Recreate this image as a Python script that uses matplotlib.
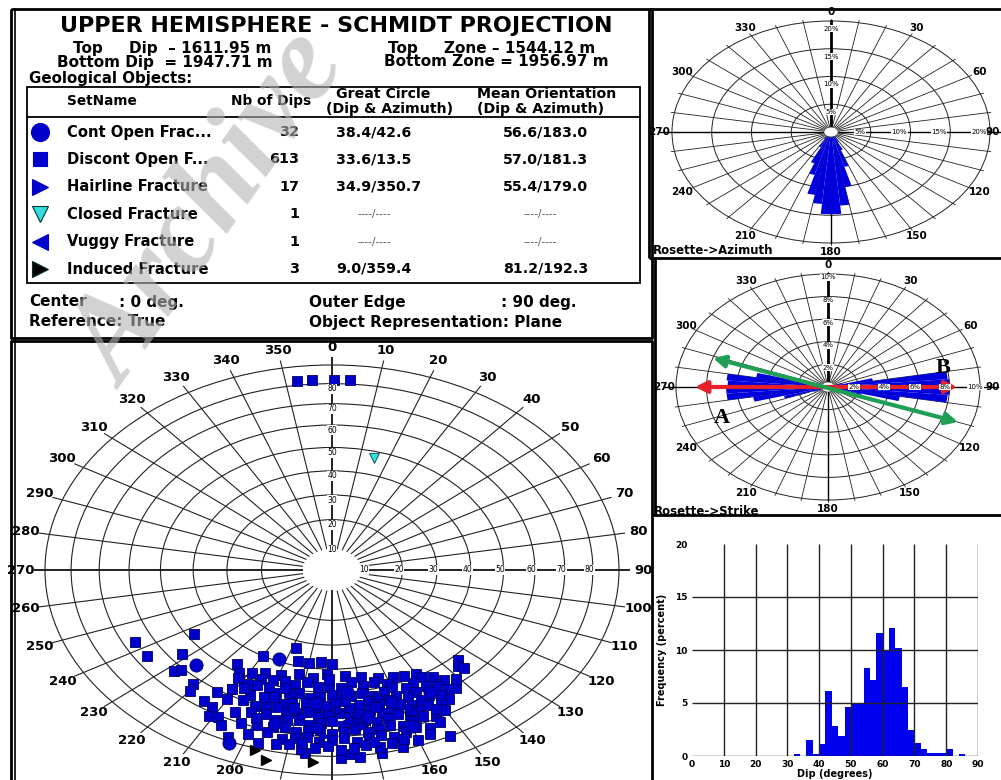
#!/usr/bin/env python3
"""Fracture orientation summary: Schmidt stereonet, rosettes and dip histogram."""

from __future__ import annotations

import numpy as np
import matplotlib

matplotlib.use("Agg")
import matplotlib.pyplot as plt
from matplotlib.patches import Circle, Rectangle, Wedge

W, H = 1001, 780
BLUE = "#0000cc"
NAVY = "#000066"
GRID = "#222222"

TITLE = "UPPER HEMISPHERE - SCHMIDT PROJECTION"
SET_NAMES = [
    "Cont Open Frac...",
    "Discont Open F...",
    "Hairline Fracture",
    "Closed Fracture",
    "Vuggy Fracture",
    "Induced Fracture",
]
NB_DIPS = [32, 613, 17, 1, 1, 3]
GREAT_CIRCLE = ["38.4/42.6", "33.6/13.5", "34.9/350.7", None, None, "9.0/359.4"]
MEAN_ORIENTATION = ["56.6/183.0", "57.0/181.3", "55.4/179.0", None, None, "81.2/192.3"]

# poles as (dip azimuth, dip), degrees
CONT_OPEN = [
    (225.6, 56), (203, 81), (203, 39), (185, 55), (170, 62),
    (160, 70), (195, 66), (150, 58), (175, 50),
]
DISCONT_OPEN = [
    (352.5, 82), (355.8, 82), (0.4, 82), (3.9, 82),
    (243, 66), (237, 48), (237, 66), (232, 56), (228, 63), (227, 61),
    (221, 63), (220, 66), (215, 67), (214, 61), (212, 68), (211, 72),
    (209, 71), (216, 47), (211, 57), (210, 40), (198, 33), (195, 38),
    (190, 38), (185, 37), (180, 38), (207, 74), (204, 78),
    (135, 52), (137, 54), (136, 56), (143, 61), (141, 58), (153, 80),
    (164, 79), (176, 79), (178, 81), (174, 81), (169, 80), (186, 79),
    (163, 46), (169, 44), (175, 43), (182, 42), (187, 44), (193, 43),
    (199, 45), (205, 46),
    (150, 49), (154, 48), (158, 47), (161, 49), (165, 47), (169, 48),
    (173, 46), (177, 48), (181, 47), (185, 48), (189, 46), (193, 48),
    (197, 47), (201, 48), (205, 49), (209, 48), (213, 50),
    (146, 53), (149, 51), (153, 52), (156, 53), (160, 51), (163, 52),
    (167, 53), (170, 51), (174, 52), (177, 53), (180, 51), (184, 52),
    (187, 53), (191, 51), (194, 52), (198, 53), (201, 51), (205, 52),
    (208, 53), (212, 52),
    (144, 56), (147, 57), (150, 55), (154, 56), (157, 57), (160, 55),
    (163, 56), (166, 57), (169, 55), (172, 56), (175, 57), (179, 55),
    (182, 56), (185, 57), (188, 55), (192, 56), (195, 57), (198, 55),
    (201, 56), (205, 57), (208, 55), (211, 57),
    (145, 60), (148, 61), (151, 59), (154, 60), (157, 61), (160, 59),
    (163, 60), (166, 61), (169, 59), (172, 60), (175, 61), (178, 59),
    (181, 60), (184, 61), (187, 59), (190, 60), (193, 61), (196, 59),
    (199, 60), (202, 61), (206, 60), (210, 62),
    (147, 64), (150, 65), (153, 63), (156, 64), (159, 65), (162, 63),
    (165, 64), (168, 65), (171, 63), (174, 64), (177, 65), (180, 63),
    (183, 64), (186, 65), (189, 63), (192, 64), (195, 65), (198, 63),
    (202, 64), (206, 66),
    (150, 68), (153, 69), (156, 67), (159, 68), (162, 69), (165, 67),
    (168, 68), (171, 69), (174, 67), (177, 68), (180, 69), (183, 67),
    (186, 68), (189, 69), (192, 67), (195, 68), (199, 69), (203, 70),
    (153, 72), (156, 73), (159, 71), (162, 72), (165, 73), (168, 71),
    (171, 72), (174, 73), (177, 71), (180, 72), (183, 73), (186, 71),
    (189, 72), (192, 73), (196, 71), (200, 74),
    (157, 76), (160, 77), (163, 75), (166, 76), (169, 77), (172, 75),
    (175, 76), (178, 77), (181, 75), (184, 76), (187, 77), (190, 75),
    (193, 76), (197, 77),
    (158, 63), (167, 58), (176, 54), (184, 66), (191, 58), (170, 74),
    (181, 44), (196, 50), (152, 66), (162, 57), (187, 74), (200, 66),
]
HAIRLINE = [(178, 58), (172, 66), (188, 61), (165, 54), (182, 70), (158, 62), (192, 52)]
CLOSED = [(15, 47)]
VUGGY = [(176, 63)]
INDUCED = [(197, 81), (194, 85), (184, 83)]

# rosettes, 5 degree bins (bin start, percent)
AZIMUTH_BINS = [145, 150, 155, 160, 165, 170, 175, 180, 185, 190, 195, 200, 205, 210]
AZIMUTH_PCT = [1.0, 2.0, 3.5, 6.5, 10.0, 13.3, 14.8, 14.8, 13.0, 11.5, 8.0, 6.0, 3.0, 1.5]
STRIKE_BINS = [70, 75, 80, 85, 90, 95, 100, 105,
               245, 250, 255, 260, 265, 270, 275, 280, 285]
STRIKE_PCT = [1.0, 3.0, 7.9, 8.0, 8.0, 7.9, 4.8, 2.3,
              1.0, 3.0, 5.0, 6.7, 6.7, 6.6, 6.7, 4.8, 2.0]

# dip histogram, 2 degree bins
DIP_BINS = [32, 36, 38, 40, 42, 44, 46, 48, 50, 52, 54, 56, 58, 60, 62,
            64, 66, 68, 70, 72, 74, 76, 78, 80, 84]
DIP_PCT = [0.15, 1.5, 0.15, 1.1, 6.1, 2.8, 1.9, 4.6, 5.0, 4.9, 8.3, 7.2, 11.6,
           10.0, 12.1, 10.2, 6.5, 2.5, 1.2, 0.7, 0.3, 0.3, 0.3, 0.7, 0.15]

fig = plt.figure(figsize=(W / 100, H / 100), dpi=100)
plt.rcParams["font.family"] = ["DejaVu Sans"]


def px_axes(x0, y0, x1, y1):
    ax = fig.add_axes([x0 / W, 1 - y1 / H, (x1 - x0) / W, (y1 - y0) / H])
    ax.set_axis_off()
    return ax


def schmidt(poles):
    az = np.radians([p[0] for p in poles])
    dip = np.radians([p[1] for p in poles])
    r = np.sqrt(2) * np.sin(dip / 2)
    return r * np.sin(az), r * np.cos(az)


def ring_radius(dip):
    return np.sqrt(2) * np.sin(np.radians(dip) / 2)


def draw_table(ax):
    ax.set_xlim(0, W)
    ax.set_ylim(H, 0)
    b = dict(fontweight="bold", va="center", color="black")
    ax.text(336, 26, TITLE, ha="center", fontsize=16, **b)
    ax.text(73, 49, "Top     Dip  \u2013 1611.95 m", ha="left", fontsize=11, **b)
    ax.text(57, 62, "Bottom Dip  = 1947.71 m", ha="left", fontsize=11, **b)
    ax.text(388, 49, "Top     Zone \u2013 1544.12 m", ha="left", fontsize=11, **b)
    ax.text(384, 62, "Bottom Zone = 1956.97 m", ha="left", fontsize=11, **b)
    ax.text(29, 79, "Geological Objects:", ha="left", fontsize=10.8, **b)

    ax.add_patch(Rectangle((27, 87), 613, 196, fill=False, lw=1.3, ec="black"))
    ax.plot([27, 640], [117, 117], color="black", lw=1.3)
    ax.text(67, 101, "SetName", ha="left", fontsize=9.8, **b)
    ax.text(271, 101, "Nb of Dips", ha="center", fontsize=9.8, **b)
    ax.text(383, 94, "Great Circle", ha="center", fontsize=10.2, **b)
    ax.text(390, 109, "(Dip & Azimuth)", ha="center", fontsize=10.2, **b)
    ax.text(547, 94, "Mean Orientation", ha="center", fontsize=10.2, **b)
    ax.text(541, 109, "(Dip & Azimuth)", ha="center", fontsize=10.2, **b)

    markers = [("o", BLUE, 13), ("s", BLUE, 10), (">", BLUE, 12),
               ("v", "#33dddd", 12), ("<", BLUE, 12), (">", "black", 12)]
    for i, name in enumerate(SET_NAMES):
        y = 132 + 27.4 * i
        m, c, s = markers[i]
        ax.plot(40, y, marker=m, ms=s, mfc=c, mec="#003333" if c != BLUE else c, mew=0.8)
        ax.text(67, y, name, ha="left", fontsize=10.6, **b)
        ax.text(299, y, str(NB_DIPS[i]), ha="right", fontsize=10.4, **b)
        for value, x_left, x_mid in ((GREAT_CIRCLE[i], 336, 374), (MEAN_ORIENTATION[i], 503, 540)):
            if value:
                ax.text(x_left, y, value, ha="left", fontsize=10.2, **b)
            else:
                ax.text(x_mid, y, "----/----", ha="center", va="center", fontsize=7.5, color="#555555")

    ax.text(29, 302, "Center", ha="left", fontsize=11, **b)
    ax.text(119, 302, ": 0 deg.", ha="left", fontsize=11, **b)
    ax.text(29, 322, "Reference: True", ha="left", fontsize=11, **b)
    ax.text(309, 302, "Outer Edge", ha="left", fontsize=11, **b)
    ax.text(501, 302, ": 90 deg.", ha="left", fontsize=11, **b)
    ax.text(309, 322, "Object Representation: Plane", ha="left", fontsize=11, **b)


def draw_stereonet(ax):
    # centre at (332, 570) px, radii 287 x 205 px
    ax.set_xlim(-(332 - 13) / 287, (651 - 332) / 287)
    ax.set_ylim(-(780 - 570) / 205, (570 - 341) / 205)
    for d in range(20, 100, 10):
        ax.add_patch(Circle((0, 0), ring_radius(d), fill=False, lw=0.8, ec=GRID))
    r0 = ring_radius(10) * 0.85
    for a in range(0, 360, 10):
        t = np.radians(a)
        lw = 1.4 if a % 90 == 0 else 0.8
        ax.plot([r0 * np.sin(t), 1.035 * np.sin(t)], [r0 * np.cos(t), 1.035 * np.cos(t)],
                color=GRID, lw=lw)
        if 170 <= a <= 190:
            continue  # these fall below the bottom edge of the page
        rl = 1.04 if a in (160, 200) else 1.085
        ax.text(rl * np.sin(t), rl * np.cos(t), str(a), ha="center", va="center",
                fontsize=9.5, fontweight="bold")
    for d in range(10, 90, 10):
        r = ring_radius(d)
        box = dict(fc="white", ec="none", pad=0.4)
        ax.text(0, r - 0.025, str(d), ha="center", va="center", fontsize=5.5, bbox=box)
        ax.text(r - 0.012, 0, str(d), ha="center", va="center", fontsize=5.5, bbox=box)

    x, y = schmidt(DISCONT_OPEN)
    ax.plot(x, y, ls="none", marker="s", ms=7.9, mfc=BLUE, mec=NAVY, mew=0.6)
    x, y = schmidt(CONT_OPEN)
    ax.plot(x, y, ls="none", marker="o", ms=9.5, mfc=BLUE, mec=NAVY, mew=0.6)
    x, y = schmidt(HAIRLINE)
    ax.plot(x, y, ls="none", marker=">", ms=7.5, mfc=BLUE, mec=NAVY, mew=0.6)
    x, y = schmidt(VUGGY)
    ax.plot(x, y, ls="none", marker="<", ms=7.5, mfc=BLUE, mec=NAVY, mew=0.6)
    x, y = schmidt(CLOSED)
    ax.plot(x, y, ls="none", marker="v", ms=7, mfc="#33dddd", mec="#004444", mew=0.6)
    x, y = schmidt(INDUCED)
    ax.plot(x, y, ls="none", marker=">", ms=7, mfc="black", mec="black")


def draw_rose(ax, bins, pct, outer, rings, lab_off, title):
    for p in rings:
        ax.add_patch(Circle((0, 0), p / outer, fill=False, lw=0.7, ec=GRID))
    for a in range(0, 360, 10):
        t = np.radians(a)
        ax.plot([0.05 * np.sin(t), 1.02 * np.sin(t)], [0.05 * np.cos(t), 1.02 * np.cos(t)],
                color=GRID, lw=0.6)
    ax.plot([-1.08, 1.12], [0, 0], color="black", lw=1.0)
    ax.plot([0, 0], [-1.0, 0], color="black", lw=1.0)
    ax.plot([0, 0], [0.04, 1.0], color="black", lw=2.0)
    for b, p in zip(bins, pct):
        ax.add_patch(Wedge((0, 0), p / outer, 90 - b - 5, 90 - b, fc="#0000dd",
                           ec="none", zorder=3))
    ax.add_patch(Circle((0, 0), 0.045, fc="white", ec=GRID, lw=0.5, zorder=4))
    box = dict(fc="white", ec="none", pad=0.3)
    for p in rings:
        r = p / outer
        ax.text(0, r - lab_off, f"{p}%", ha="center", va="center", fontsize=5, bbox=box, zorder=6)
        ax.text(r - lab_off, 0, f"{p}%", ha="center", va="center", fontsize=5, bbox=box, zorder=6)
    x_right = ax.get_xlim()[1]
    for a in range(0, 360, 30):
        t = np.radians(a)
        x, ha = 1.08 * np.sin(t), "center"
        if a == 90 and x > x_right - 0.1:
            x, ha = x_right - 0.005, "right"  # keep the east label inside the panel
        ax.text(x, 1.08 * np.cos(t), str(a), ha=ha, va="center",
                fontsize=7.5, fontweight="bold", zorder=6)
    ax.text(0.008, 0.03, title, transform=ax.transAxes, ha="left", va="center",
            fontsize=8.5, fontweight="bold", clip_on=True)


def draw_azimuth_rose(ax):
    # centre (831, 132) px, radii 159 x 111 px
    ax.set_xlim((650 - 831) / 159, (1001 - 831) / 159)
    ax.set_ylim((132 - 258) / 111, (132 - 10) / 111)
    draw_rose(ax, AZIMUTH_BINS, AZIMUTH_PCT, 20, [5, 10, 15, 20], 0.07, "Rosette->Azimuth")


def draw_strike_rose(ax):
    # centre (828, 387) px, radii 152 x 113 px
    ax.set_xlim((652 - 828) / 152, (1001 - 828) / 152)
    ax.set_ylim((387 - 515) / 113, (387 - 258) / 113)
    draw_rose(ax, STRIKE_BINS, STRIKE_PCT, 10, [2, 4, 6, 8, 10], 0.03, "Rosette->Strike")
    ax.texts[-1].set_position((0.004, 0.014))
    arrow = dict(arrowstyle="<|-|>,head_length=0.7,head_width=0.35", lw=3.0,
                 shrinkA=0, shrinkB=0)
    ax.annotate("", xy=(0.85, 0), xytext=(-0.875, 0),
                arrowprops=dict(color="#e8202a", **arrow), zorder=5)
    ax.annotate("", xy=(0.855, -0.31), xytext=(-0.757, 0.257),
                arrowprops=dict(color="#1f9e55", **arrow), zorder=5)
    serif = dict(family="Liberation Serif", fontweight="bold", fontsize=16,
                 ha="center", va="center", zorder=7)
    ax.text(-0.697, -0.274, "A", **serif)
    ax.text(0.757, 0.168, "B", **serif)


def draw_histogram(ax):
    ax.set_axis_on()
    ax.bar(DIP_BINS, DIP_PCT, width=2, align="edge", color="#0000ee", zorder=2)
    ax.vlines(range(10, 91, 10), 0, 20, color=GRID, lw=1.0, zorder=3)
    ax.hlines([0, 5, 10, 15], 0, 90, color=GRID, lw=1.0, zorder=3)
    ax.set_xlim(0, 90)
    ax.set_ylim(0, 20)
    for s in ax.spines.values():
        s.set_visible(False)
    ax.set_xticks(range(0, 91, 10))
    ax.set_yticks(range(0, 21, 5))
    ax.tick_params(length=0, labelsize=6.5, pad=3)
    for lab in ax.get_xticklabels() + ax.get_yticklabels():
        lab.set_fontweight("bold")
    ax.set_xlabel("Dip (degrees)", fontsize=7, fontweight="bold", labelpad=0)
    ax.set_ylabel("Frequency (percent)", fontsize=7, fontweight="bold", labelpad=6)


def draw_frames(ax):
    ax.set_xlim(0, W)
    ax.set_ylim(H, 0)
    k = dict(color="black", lw=2.0, solid_capstyle="butt")
    ax.plot([11, 652, 652, 11, 11], [9, 9, 338, 338, 9], **k)
    ax.plot([15, 15], [9, 780], color="black", lw=1.2)
    ax.plot([11, 11, 652, 652], [780, 341, 341, 780], **k)
    ax.plot([649, 1001], [9, 9], **k)
    ax.plot([649, 649], [9, 258], **k)
    ax.plot([649, 1001], [258, 258], **k)
    ax.plot([655, 655], [258, 515], **k)
    ax.plot([652, 1001], [515, 515], **k)


def main() -> None:
    draw_table(px_axes(0, 0, W, H))
    draw_stereonet(px_axes(13, 341, 651, 780))
    draw_azimuth_rose(px_axes(650, 10, 1001, 258))
    draw_strike_rose(px_axes(652, 258, 1001, 515))
    draw_histogram(px_axes(692, 544, 978, 756))
    frame = px_axes(0, 0, W, H)
    frame.patch.set_visible(False)
    draw_frames(frame)
    fig.text(212 / W, 1 - 212 / H, "Archive", rotation=55, fontsize=88,
             family="Liberation Serif", style="italic", fontweight="bold",
             color="#b4b4b4", alpha=0.6, ha="center", va="center", zorder=10)
    fig.savefig("out.png", dpi=100)


if __name__ == "__main__":
    main()
